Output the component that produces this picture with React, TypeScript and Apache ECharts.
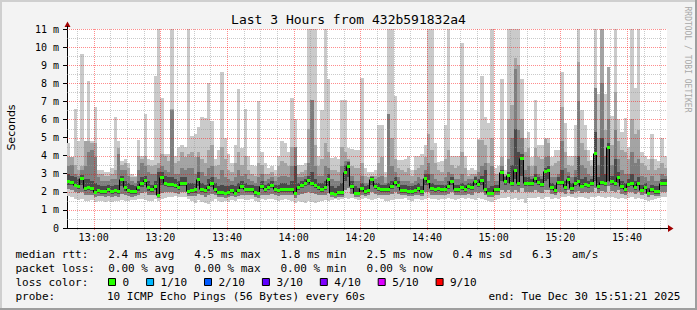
import React, { useEffect, useRef } from 'react';
import * as echarts from 'echarts';

// x axis is in minutes after 12:00; each step covers one minute
const AXIS_START = 52;
const AXIS_END = 232;
const FIRST_MINUTE = 52;

const median = [
  2.6, 2.54, 2.4, 2.32, 2.74, 2.19, 2.25, 2.19, 2.0, 2.1,
  2.06, 2.06, 2.14, 2.06, 2.1, 2.03, 2.69, 2.25, 2.1, 2.06,
  2.06, 2.25, 2.5, 2.65, 2.25, 2.14, 2.32, 1.82, 2.84, 2.5,
  2.43, 2.43, 2.38, 2.25, 2.47, 2.5, 2.06, 2.1, 2.14, 2.69,
  2.17, 2.1, 2.25, 2.5, 2.17, 2.0, 2.0, 1.92, 2.0, 2.1,
  1.95, 2.1, 2.32, 2.17, 2.17, 2.17, 1.97, 1.95, 2.32, 2.14,
  2.25, 2.38, 2.17, 2.1, 2.14, 2.14, 2.14, 2.14, 1.95, 2.25,
  2.38, 2.47, 2.65, 2.5, 2.38, 2.25, 2.14, 2.25, 2.69, 1.95,
  1.88, 2.0, 2.0, 3.1, 3.43, 2.32, 1.95, 1.95, 2.19, 2.06,
  2.1, 2.69, 2.32, 2.23, 2.14, 2.17, 2.14, 2.32, 2.56, 2.38,
  2.1, 2.1, 2.03, 2.06, 2.1, 2.19, 2.03, 2.74, 2.58, 2.21,
  2.17, 2.19, 2.17, 2.17, 2.32, 2.62, 2.14, 2.14, 2.25, 2.14,
  2.32, 2.25, 2.6, 2.43, 2.65, 2.14, 1.95, 1.95, 2.17, 2.14,
  3.1, 2.58, 2.93, 2.47, 3.2, 2.5, 3.85, 2.5, 2.5, 2.47,
  2.76, 2.54, 2.43, 3.13, 3.2, 2.28, 2.1, 2.56, 2.56, 2.26,
  2.7, 2.23, 2.49, 2.6, 2.34, 2.45, 2.38, 2.49, 4.16, 2.32,
  2.56, 2.49, 4.5, 2.6, 2.49, 2.84, 2.3, 2.17, 2.45, 2.49,
  2.27, 2.49, 2.12, 2.27, 1.92, 2.15, 2.03, 2.03, 2.49, 2.49,
];

// lowest ping of each step (bottom of the lightest smoke)
const pingMin = [
  1.75, 1.7, 1.6, 1.55, 1.6, 1.5, 1.5, 1.55, 1.45, 1.5,
  1.5, 1.45, 1.5, 1.45, 1.5, 1.5, 1.55, 1.5, 1.5, 1.55,
  1.55, 1.6, 1.6, 1.55, 1.5, 1.5, 1.6, 1.5, 1.6, 1.65,
  1.7, 1.7, 1.75, 1.7, 1.7, 1.7, 1.6, 1.5, 1.4, 1.55,
  1.45, 1.4, 1.35, 1.5, 1.6, 1.5, 1.45, 1.5, 1.45, 1.55,
  1.5, 1.6, 1.6, 1.55, 1.55, 1.6, 1.5, 1.45, 1.6, 1.55,
  1.6, 1.6, 1.55, 1.5, 1.55, 1.6, 1.55, 1.5, 1.4, 1.5,
  1.45, 1.4, 1.5, 1.45, 1.4, 1.45, 1.5, 1.55, 1.5, 1.55,
  1.6, 1.55, 1.6, 1.65, 1.6, 1.65, 1.6, 1.55, 1.6, 1.65,
  1.6, 1.55, 1.6, 1.65, 1.6, 1.5, 1.5, 1.55, 1.6, 1.6,
  1.6, 1.65, 1.55, 1.5, 1.6, 1.6, 1.55, 1.6, 1.65, 1.6,
  1.6, 1.55, 1.6, 1.6, 1.65, 1.6, 1.55, 1.6, 1.65, 1.6,
  1.65, 1.6, 1.55, 1.65, 1.6, 1.55, 1.5, 1.45, 1.55, 1.6,
  1.65, 1.65, 1.7, 1.6, 1.65, 1.55, 1.6, 1.4, 1.65, 1.65,
  1.65, 1.7, 1.6, 1.7, 1.7, 1.6, 1.65, 1.6, 1.7, 1.7,
  1.75, 1.7, 1.65, 1.7, 1.7, 1.65, 1.6, 1.7, 1.7, 1.75,
  1.7, 1.65, 1.7, 1.7, 1.65, 1.6, 1.65, 1.6, 1.65, 1.7,
  1.6, 1.65, 1.6, 1.55, 1.5, 1.55, 1.6, 1.65, 1.7, 1.7,
];

// lower edge of the middle smoke bands
const pingLow = [
  2.15, 2.1, 2.0, 1.95, 2.0, 1.85, 1.85, 1.8, 1.7, 1.75,
  1.75, 1.7, 1.75, 1.7, 1.75, 1.7, 1.9, 1.8, 1.75, 1.7,
  1.75, 1.85, 1.95, 2.0, 1.85, 1.8, 1.85, 1.65, 1.95, 2.0,
  2.0, 2.0, 1.95, 1.9, 2.0, 2.0, 1.75, 1.75, 1.75, 1.9,
  1.8, 1.7, 1.8, 1.9, 1.8, 1.7, 1.7, 1.65, 1.7, 1.75,
  1.7, 1.75, 1.85, 1.8, 1.8, 1.8, 1.7, 1.65, 1.85, 1.8,
  1.85, 1.9, 1.8, 1.75, 1.8, 1.8, 1.8, 1.8, 1.65, 1.8,
  1.9, 1.95, 2.0, 1.95, 1.9, 1.85, 1.8, 1.85, 1.95, 1.7,
  1.65, 1.7, 1.7, 2.1, 2.2, 1.9, 1.7, 1.7, 1.8, 1.75,
  1.8, 2.0, 1.9, 1.85, 1.8, 1.8, 1.8, 1.9, 2.0, 1.9,
  1.8, 1.8, 1.75, 1.75, 1.8, 1.85, 1.75, 2.0, 2.0, 1.85,
  1.8, 1.85, 1.8, 1.8, 1.9, 2.0, 1.8, 1.8, 1.85, 1.8,
  1.9, 1.85, 2.0, 1.95, 2.0, 1.8, 1.7, 1.7, 1.8, 1.8,
  2.1, 2.0, 2.1, 2.0, 2.1, 2.0, 2.2, 2.0, 2.0, 2.0,
  2.1, 2.0, 1.95, 2.1, 2.1, 1.9, 1.8, 2.0, 2.0, 1.9,
  2.1, 1.9, 2.0, 2.05, 1.95, 2.0, 1.95, 2.0, 2.2, 1.95,
  2.05, 2.0, 2.3, 2.05, 2.0, 2.1, 1.9, 1.85, 2.0, 2.0,
  1.9, 2.0, 1.8, 1.9, 1.7, 1.8, 1.75, 1.75, 2.0, 2.0,
];

// lower edge of the dark band around the median
const pingMidLow = [
  2.4, 2.35, 2.25, 2.15, 2.4, 2.05, 2.1, 2.05, 1.9, 1.95,
  1.9, 1.9, 2.0, 1.9, 1.95, 1.9, 2.3, 2.05, 1.95, 1.9,
  1.9, 2.05, 2.25, 2.35, 2.05, 2.0, 2.1, 1.72, 2.4, 2.3,
  2.25, 2.25, 2.2, 2.1, 2.3, 2.3, 1.9, 1.95, 1.95, 2.3,
  2.0, 1.95, 2.05, 2.25, 2.0, 1.85, 1.85, 1.8, 1.85, 1.95,
  1.82, 1.95, 2.15, 2.0, 2.0, 2.0, 1.85, 1.82, 2.15, 2.0,
  2.1, 2.2, 2.0, 1.95, 2.0, 2.0, 2.0, 2.0, 1.82, 2.1,
  2.2, 2.3, 2.4, 2.3, 2.2, 2.1, 2.0, 2.1, 2.3, 1.82,
  1.76, 1.85, 1.85, 2.6, 2.8, 2.15, 1.82, 1.82, 2.0, 1.9,
  1.95, 2.35, 2.15, 2.05, 2.0, 2.0, 2.0, 2.15, 2.3, 2.2,
  1.95, 1.95, 1.9, 1.9, 1.95, 2.05, 1.9, 2.4, 2.35, 2.05,
  2.0, 2.05, 2.0, 2.0, 2.15, 2.35, 2.0, 2.0, 2.1, 2.0,
  2.15, 2.1, 2.35, 2.25, 2.4, 2.0, 1.82, 1.82, 2.0, 2.0,
  2.6, 2.35, 2.5, 2.3, 2.7, 2.3, 2.9, 2.3, 2.3, 2.3,
  2.5, 2.35, 2.25, 2.6, 2.7, 2.1, 1.95, 2.35, 2.35, 2.1,
  2.45, 2.05, 2.3, 2.4, 2.2, 2.25, 2.2, 2.3, 2.6, 2.15,
  2.35, 2.3, 2.6, 2.4, 2.3, 2.5, 2.15, 2.0, 2.25, 2.3,
  2.1, 2.3, 1.98, 2.1, 1.8, 2.0, 1.9, 1.9, 2.3, 2.3,
];

// highest ping of each step (top of the lightest smoke)
const pingMax = [
  4.7, 3.9, 6.6, 4.8, 9.6, 4.8, 8.1, 4.8, 6.7, 3.2,
  3.2, 3.1, 3.1, 3.3, 6.15, 4.8, 3.7, 3.8, 3.6, 3.0,
  2.9, 4.85, 4.0, 6.3, 3.8, 3.75, 8.4, 11, 7.2, 4.1,
  4.1, 11, 4.0, 4.5, 4.6, 4.5, 11, 5.1, 5.2, 5.6,
  6.15, 6.1, 8.0, 5.9, 3.8, 4.3, 8.6, 5.0, 4.1, 3.6,
  4.6, 7.7, 4.4, 6.6, 4.0, 3.5, 3.4, 7.0, 4.2, 3.6,
  3.3, 3.4, 3.2, 4.0, 4.8, 4.7, 4.2, 7.2, 6.05, 3.5,
  3.5, 3.6, 11, 11, 11, 4.0, 6.5, 11, 8.25, 3.85,
  3.9, 3.8, 7.05, 7.05, 4.4, 4.35, 4.3, 4.3, 8.3, 3.3,
  3.1, 3.1, 3.2, 5.7, 5.7, 3.1, 11, 11, 7.3, 3.75,
  3.75, 3.8, 4.0, 3.2, 4.0, 4.0, 4.1, 4.6, 11, 11,
  4.7, 3.65, 3.7, 5.7, 11, 4.0, 4.0, 4.0, 10.2, 4.0,
  3.2, 3.3, 3.2, 4.9, 8.4, 6.15, 5.8, 11, 3.3, 3.4,
  8.25, 3.2, 11, 11, 11, 11, 8.25, 5.0, 5.3, 3.9,
  7.07, 4.6, 4.6, 5.0, 5.0, 3.9, 4.3, 4.3, 8.6, 5.8,
  4.0, 4.0, 5.7, 11, 6.5, 5.7, 4.3, 3.75, 11, 7.4,
  11, 7.4, 8.9, 6.2, 11, 6.0, 5.3, 6.1, 4.5, 11,
  7.75, 11, 4.2, 4.0, 3.8, 5.2, 3.8, 3.7, 5.0, 4.0,
];

// top of the second smoke band
const pingHigh = [
  3.9, 3.9, 3.5, 3.2, 3.4, 4.8, 4.8, 4.7, 4.7, 3.0,
  3.0, 2.9, 2.9, 3.0, 3.2, 4.4, 3.5, 3.6, 3.3, 2.8,
  2.8, 4.0, 3.8, 4.0, 3.5, 3.4, 3.5, 3.6, 4.1, 4.0,
  3.7, 6.6, 3.6, 3.7, 4.2, 3.9, 4.1, 4.2, 3.9, 4.2,
  3.8, 3.6, 4.3, 4.6, 3.4, 3.5, 4.5, 3.8, 3.2, 3.1,
  3.6, 4.2, 3.5, 4.0, 3.2, 3.0, 2.9, 3.6, 3.5, 3.0,
  3.0, 3.1, 2.9, 3.4, 3.7, 3.6, 3.4, 4.5, 4.5, 3.0,
  3.1, 3.2, 5.5, 7.1, 4.6, 3.4, 3.8, 4.7, 4.2, 3.2,
  3.2, 3.1, 4.5, 4.2, 3.8, 3.4, 3.3, 3.3, 3.6, 2.9,
  2.8, 2.9, 2.9, 3.6, 3.9, 2.8, 6.3, 5.0, 3.8, 3.3,
  3.2, 3.1, 3.3, 2.9, 3.2, 3.3, 3.5, 3.9, 5.2, 4.3,
  3.6, 3.2, 3.1, 3.8, 4.3, 3.5, 3.3, 3.4, 4.2, 3.3,
  2.9, 3.0, 3.0, 4.86, 4.86, 4.6, 3.6, 5.0, 3.0, 3.0,
  3.9, 3.0, 6.0, 6.8, 9.4, 9.0, 6.0, 4.2, 4.4, 3.4,
  4.4, 3.9, 3.8, 4.9, 4.7, 3.4, 3.6, 3.7, 6.7, 4.2,
  3.5, 3.4, 4.0, 9.2, 4.7, 4.3, 3.7, 3.4, 7.75, 5.0,
  11, 5.4, 8.9, 4.6, 7.5, 4.8, 4.3, 4.2, 3.8, 6.0,
  5.2, 5.4, 3.6, 3.4, 3.2, 3.8, 3.2, 3.3, 3.6, 3.3,
];

// top of the third smoke band
const pingMidHigh = [
  3.4, 3.5, 3.0, 2.9, 3.2, 3.4, 4.2, 4.3, 3.9, 2.8,
  2.6, 2.6, 2.6, 2.7, 2.7, 4.1, 3.2, 3.2, 2.9, 2.6,
  2.5, 3.2, 3.6, 3.4, 3.1, 3.0, 3.0, 3.3, 3.4, 3.2,
  3.1, 6.5, 3.0, 3.0, 3.3, 3.2, 3.3, 3.3, 3.0, 3.9,
  3.1, 2.9, 3.3, 3.4, 2.8, 2.7, 3.2, 2.8, 2.7, 2.6,
  2.8, 3.2, 2.9, 3.0, 2.7, 2.6, 2.5, 2.8, 3.0, 2.6,
  2.7, 2.8, 2.6, 2.8, 2.9, 2.9, 2.8, 3.4, 4.5, 2.8,
  2.8, 2.9, 3.6, 7.1, 3.4, 2.9, 2.9, 3.4, 3.3, 2.7,
  2.6, 2.6, 3.4, 3.7, 3.7, 2.9, 2.6, 2.6, 2.9, 2.5,
  2.5, 2.9, 2.7, 2.8, 2.9, 2.5, 6.3, 3.4, 3.1, 2.8,
  2.6, 2.6, 2.6, 2.5, 2.6, 2.8, 2.7, 3.2, 3.6, 3.0,
  2.7, 2.6, 2.6, 2.8, 3.1, 3.0, 2.7, 2.7, 3.0, 2.6,
  2.7, 2.7, 2.9, 3.1, 3.4, 3.6, 2.6, 3.4, 2.6, 2.6,
  3.4, 2.9, 3.8, 5.0, 8.8, 5.4, 5.0, 3.2, 3.4, 2.9,
  3.4, 3.0, 2.9, 3.9, 4.0, 2.8, 2.8, 3.0, 4.8, 3.3,
  3.1, 2.8, 3.2, 7.0, 3.5, 3.3, 3.0, 2.9, 7.75, 3.5,
  8.0, 4.0, 6.0, 3.5, 5.4, 3.8, 3.2, 3.0, 3.0, 4.2,
  3.6, 3.8, 2.9, 2.8, 2.6, 2.9, 2.6, 2.6, 3.0, 2.9,
];

// top of the dark band around the median
const pingInner = [
  3.0, 2.9, 2.8, 2.7, 2.95, 2.7, 2.7, 2.6, 2.5, 2.4,
  2.3, 2.3, 2.35, 2.3, 2.4, 2.4, 2.9, 2.6, 2.5, 2.4,
  2.3, 2.6, 2.8, 2.9, 2.6, 2.4, 2.6, 3.1, 3.1, 2.9,
  2.8, 2.8, 2.7, 2.6, 2.8, 2.8, 2.5, 2.5, 2.5, 3.1,
  2.5, 2.4, 2.7, 2.8, 2.5, 2.3, 2.4, 2.3, 2.3, 2.4,
  2.3, 2.5, 2.6, 2.5, 2.4, 2.4, 2.3, 2.3, 2.6, 2.4,
  2.5, 2.6, 2.4, 2.4, 2.5, 2.5, 2.4, 2.6, 3.4, 2.5,
  2.6, 2.7, 2.9, 3.1, 2.7, 2.5, 2.5, 2.6, 3.0, 2.3,
  2.2, 2.3, 2.5, 3.5, 3.65, 2.6, 2.3, 2.2, 2.5, 2.3,
  2.4, 2.8, 2.5, 2.5, 2.4, 2.4, 2.5, 2.6, 2.8, 2.6,
  2.4, 2.4, 2.3, 2.3, 2.4, 2.5, 2.3, 3.0, 3.0, 2.5,
  2.4, 2.4, 2.4, 2.4, 2.6, 2.8, 2.4, 2.4, 2.5, 2.4,
  2.5, 2.5, 2.8, 2.7, 2.9, 3.2, 2.2, 2.3, 2.4, 2.4,
  3.2, 2.8, 3.1, 3.5, 5.5, 4.2, 4.1, 2.8, 2.8, 2.7,
  3.0, 2.8, 2.7, 3.3, 3.4, 2.5, 2.4, 2.8, 3.2, 2.6,
  2.9, 2.5, 2.8, 4.0, 2.7, 2.8, 2.6, 2.7, 5.3, 2.8,
  5.0, 3.0, 4.7, 2.9, 3.8, 3.1, 2.6, 2.5, 2.7, 3.0,
  2.6, 2.8, 2.4, 2.5, 2.2, 2.4, 2.3, 2.3, 2.7, 2.7,
];

const timeTicks = [60, 80, 100, 120, 140, 160, 180, 200, 220];
const gridMinutes = [
  55, 60, 65, 70, 75, 80, 85, 90, 95, 100, 105, 110, 115, 120, 125, 130, 135, 140,
  145, 150, 155, 160, 165, 170, 175, 180, 185, 190, 195, 200, 205, 210, 215, 220, 225, 230,
];
const gridValues = [
  0.5, 1, 1.5, 2, 2.5, 3, 3.5, 4, 4.5, 5, 5.5, 6, 6.5, 7, 7.5, 8, 8.5, 9, 9.5, 10, 10.5, 11,
];

const titleText = 'Last 3 Hours from 432b591832a4';
const yTitle = 'Seconds';
const watermark = 'RRDTOOL / TOBI OETIKER';
const legendRtt = 'median rtt:   2.4 ms avg   4.5 ms max   1.8 ms min   2.5 ms now   0.4 ms sd   6.3   am/s';
const legendLoss = 'packet loss:  0.00 % avg   0.00 % max   0.00 % min   0.00 % now';
const legendColorLabel = 'loss color:';
const lossLabels = ['0', '1/10', '2/10', '3/10', '4/10', '5/10', '9/10'];
const lossColors = ['#26ff00', '#00b8ff', '#0059ff', '#5e00ff', '#7e00ff', '#dd00ff', '#ff0000'];
const probeLabel = 'probe:';
const probeText = '10 ICMP Echo Pings (56 Bytes) every 60s';
const endText = 'end: Tue Dec 30 15:51:21 2025';

const smokeColors = ['#cacaca', '#a4a4a4', '#7e7e7e', '#4a4a4a'];
const MONO = "'DejaVu Sans Mono', monospace";
const MAJOR = 'rgba(255,0,0,0.45)';
const MINOR = 'rgba(150,150,150,0.5)';

function fmtTime(v: number) {
  const h = 12 + Math.floor(v / 60);
  const m = v % 60;
  return `${h}:${String(m).padStart(2, '0')}`;
}

export default function App() {
  const ref = useRef<HTMLDivElement>(null);

  useEffect(() => {
    const chart = echarts.init(ref.current as HTMLDivElement, null, { renderer: 'svg' });

    const smokeData = median.map((_, i) => [
      FIRST_MINUTE + i,
      pingMin[i], pingMax[i],
      pingLow[i], pingHigh[i],
      pingLow[i], pingMidHigh[i],
      pingMidLow[i], pingInner[i],
    ]);
    const medData = median.map((m, i) => [
      FIRST_MINUTE + i, m, i + 1 < median.length ? median[i + 1] : m,
    ]);

    const clampX = (cs: any, x: number) => Math.max(cs.x, Math.min(cs.x + cs.width, x));

    const graphic: any[] = [
      { type: 'rect', shape: { x: 0, y: 0, width: 697, height: 2 }, style: { fill: '#cfcfcf' }, silent: true },
      { type: 'rect', shape: { x: 0, y: 0, width: 2, height: 310 }, style: { fill: '#cfcfcf' }, silent: true },
      { type: 'rect', shape: { x: 0, y: 308, width: 697, height: 2 }, style: { fill: '#9e9e9e' }, silent: true },
      { type: 'rect', shape: { x: 695, y: 0, width: 2, height: 310 }, style: { fill: '#9e9e9e' }, silent: true },
      {
        type: 'text', x: 348.5, y: 19,
        style: { text: titleText, font: `13px ${MONO}`, fill: '#000', align: 'center', verticalAlign: 'middle', textAlign: 'center', textVerticalAlign: 'middle' },
      },
      {
        type: 'text', x: 11, y: 127.5, rotation: Math.PI / 2,
        style: { text: yTitle, font: "11px 'DejaVu Sans', sans-serif", fill: '#000', align: 'center', verticalAlign: 'middle', textAlign: 'center', textVerticalAlign: 'middle' },
      },
      {
        type: 'text', x: 687.5, y: 59.5, rotation: -Math.PI / 2,
        style: { text: watermark, font: `8px ${MONO}`, fill: '#a8a8a8', align: 'center', verticalAlign: 'middle', textAlign: 'center', textVerticalAlign: 'middle' },
      },
      { type: 'polygon', shape: { points: [[64.5, 27], [67.5, 21.5], [70.5, 27]] }, style: { fill: '#a00000' }, z: 100 },
      { type: 'rect', shape: { x: 67, y: 26, width: 1, height: 3 }, style: { fill: '#000' }, z: 100 },
      { type: 'polygon', shape: { points: [[668, 225], [673.5, 228.5], [668, 232]] }, style: { fill: '#a00000' }, z: 100 },
      { type: 'rect', shape: { x: 667, y: 228, width: 1, height: 1 }, style: { fill: '#000' }, z: 100 },
      {
        type: 'text', x: 15.5, y: 254.5,
        style: { text: legendRtt, font: `11px ${MONO}`, fill: '#000', align: 'left', verticalAlign: 'middle', textAlign: 'left', textVerticalAlign: 'middle' },
      },
      {
        type: 'text', x: 15.5, y: 268.5,
        style: { text: legendLoss, font: `11px ${MONO}`, fill: '#000', align: 'left', verticalAlign: 'middle', textAlign: 'left', textVerticalAlign: 'middle' },
      },
      {
        type: 'text', x: 15.5, y: 282.5,
        style: { text: legendColorLabel, font: `11px ${MONO}`, fill: '#000', align: 'left', verticalAlign: 'middle', textAlign: 'left', textVerticalAlign: 'middle' },
      },
      {
        type: 'text', x: 15.5, y: 296.5,
        style: { text: probeLabel, font: `11px ${MONO}`, fill: '#000', align: 'left', verticalAlign: 'middle', textAlign: 'left', textVerticalAlign: 'middle' },
      },
      {
        type: 'text', x: 107, y: 296.5,
        style: { text: probeText, font: `11px ${MONO}`, fill: '#000', align: 'left', verticalAlign: 'middle', textAlign: 'left', textVerticalAlign: 'middle' },
      },
      {
        type: 'text', x: 680.5, y: 296.5,
        style: { text: endText, font: `11px ${MONO}`, fill: '#000', align: 'right', verticalAlign: 'middle', textAlign: 'right', textVerticalAlign: 'middle' },
      },
    ];

    let bx = 108;
    lossLabels.forEach((label, i) => {
      graphic.push({
        type: 'rect', shape: { x: bx + 0.5, y: 278.5, width: 7, height: 7 },
        style: { fill: lossColors[i], stroke: '#000', lineWidth: 1 },
      });
      graphic.push({
        type: 'text', x: bx + 14.5, y: 282.5,
        style: { text: label, font: `11px ${MONO}`, fill: '#000', align: 'left', verticalAlign: 'middle', textAlign: 'left', textVerticalAlign: 'middle' },
      });
      bx += label.length * 6.6 + 31.5;
    });

    const option: any = {
      animation: false,
      backgroundColor: '#f3f3f3',
      grid: { left: 67, right: 30, top: 29, bottom: 82, show: true, backgroundColor: '#ffffff', borderWidth: 0 },
      xAxis: {
        type: 'value', min: AXIS_START, max: AXIS_END,
        axisLine: { show: true, lineStyle: { color: '#000', width: 1 } },
        axisTick: { show: false }, axisLabel: { show: false }, splitLine: { show: false },
      },
      yAxis: {
        type: 'value', min: 0, max: 11, interval: 1,
        axisLine: { show: true, lineStyle: { color: '#000', width: 1 } },
        axisTick: { show: true, length: 4, lineStyle: { color: '#000' } },
        axisLabel: {
          show: true, margin: 8, fontFamily: MONO, fontSize: 10, color: '#000',
          formatter: (v: number) => (v === 0 ? '0' : `${v} m`),
        },
        splitLine: { show: false },
      },
      graphic,
      series: [
        {
          type: 'custom', name: 'smoke', z: 1, clip: true, silent: true,
          data: smokeData,
          encode: { x: 0, y: [1, 2] },
          renderItem: (params: any, api: any) => {
            const cs = params.coordSys;
            const t = api.value(0);
            const xa = Math.round(clampX(cs, api.coord([t, 0])[0]));
            const xb = Math.round(clampX(cs, api.coord([t + 1, 0])[0]));
            const children: any[] = [];
            if (xb > xa) {
              for (let l = 0; l < 4; l++) {
                const lo = api.value(1 + 2 * l);
                const hi = api.value(2 + 2 * l);
                const yTop = Math.round(api.coord([t, hi])[1]);
                const yBot = Math.round(api.coord([t, lo])[1]);
                children.push({
                  type: 'rect',
                  shape: { x: xa, y: yTop, width: xb - xa, height: Math.max(1, yBot - yTop) },
                  style: { fill: smokeColors[l] },
                });
              }
            }
            return { type: 'group', children };
          },
        },
        {
          type: 'custom', name: 'vgrid', z: 3, clip: false, silent: true,
          data: gridMinutes.map((v) => [v, 0]),
          encode: { x: 0, y: 1 },
          renderItem: (params: any, api: any) => {
            const cs = params.coordSys;
            const v = api.value(0);
            const x = Math.round(api.coord([v, 0])[0]) + 0.5;
            return {
              type: 'line',
              shape: { x1: x, y1: cs.y, x2: x, y2: cs.y + cs.height + 3 },
              style: { stroke: v % 20 === 0 ? MAJOR : MINOR, lineWidth: 1, lineDash: [1, 1] },
            };
          },
        },
        {
          type: 'custom', name: 'hgrid', z: 3, clip: false, silent: true,
          data: gridValues.map((v) => [AXIS_START, v]),
          encode: { x: 0, y: 1 },
          renderItem: (params: any, api: any) => {
            const cs = params.coordSys;
            const v = api.value(1);
            const y = Math.round(api.coord([AXIS_START, v])[1]) + 0.5;
            return {
              type: 'line',
              shape: { x1: cs.x, y1: y, x2: cs.x + cs.width, y2: y },
              style: { stroke: Number.isInteger(v) ? MAJOR : MINOR, lineWidth: 1, lineDash: [1, 1] },
            };
          },
        },
        {
          type: 'custom', name: 'median-line', z: 4, clip: true, silent: true,
          data: medData,
          encode: { x: 0, y: 1 },
          renderItem: (params: any, api: any) => {
            const cs = params.coordSys;
            const t = api.value(0);
            const xa = Math.round(clampX(cs, api.coord([t, 0])[0]));
            const xb = Math.round(clampX(cs, api.coord([t + 1, 0])[0]));
            const y1 = Math.round(api.coord([t, api.value(1)])[1]) + 0.5;
            const y2 = Math.round(api.coord([t, api.value(2)])[1]) + 0.5;
            return {
              type: 'polyline',
              shape: { points: [[xa, y1], [xb - 0.5, y1], [xb - 0.5, y2]] },
              style: { stroke: '#000', lineWidth: 1, fill: null },
            };
          },
        },
        {
          type: 'custom', name: 'median', z: 5, clip: true, silent: true,
          data: medData,
          encode: { x: 0, y: 1 },
          renderItem: (params: any, api: any) => {
            const cs = params.coordSys;
            const t = api.value(0);
            const xa = Math.round(clampX(cs, api.coord([t, 0])[0]));
            const xb = Math.round(clampX(cs, api.coord([t + 1, 0])[0]));
            const yc = Math.round(api.coord([t, api.value(1)])[1]);
            return {
              type: 'rect',
              shape: { x: xa, y: yc - 1, width: xb - xa, height: 3 },
              style: { fill: lossColors[0] },
            };
          },
        },
        {
          type: 'custom', name: 'time-labels', z: 6, clip: false, silent: true,
          data: timeTicks.map((v) => [v, 0]),
          encode: { x: 0, y: 1 },
          renderItem: (params: any, api: any) => {
            const cs = params.coordSys;
            const v = api.value(0);
            const x = api.coord([v, 0])[0];
            return {
              type: 'text',
              x, y: cs.y + cs.height + 9.5,
              style: {
                text: fmtTime(v), font: `10px ${MONO}`, fill: '#000',
                align: 'center', verticalAlign: 'middle', textAlign: 'center', textVerticalAlign: 'middle',
              },
            };
          },
        },
      ],
    };

    chart.setOption(option);
    return () => chart.dispose();
  }, []);

  return (
    <div
      ref={ref}
      style={{ position: 'fixed', left: 0, top: 0, width: 697, height: 310 }}
    />
  );
}
